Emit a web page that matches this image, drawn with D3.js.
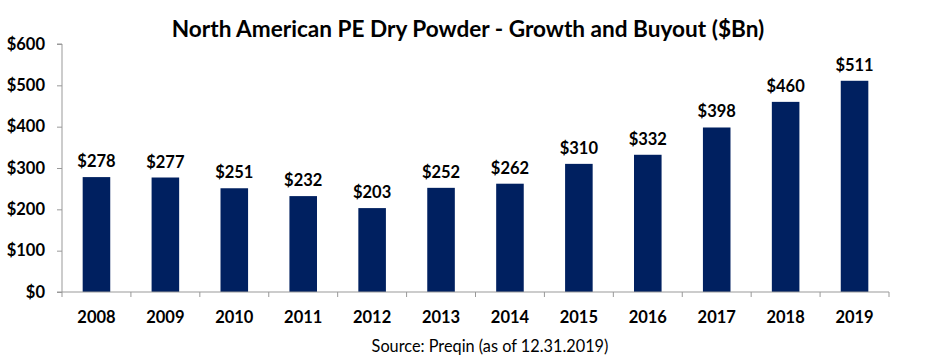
<!DOCTYPE html>
<html><head><meta charset="utf-8">
<script src="https://cdn.jsdelivr.net/npm/d3@7"></script>
<style>body{margin:0;background:#fff;} svg{display:block;}</style>
</head><body>
<svg id="c" width="936" height="364"></svg>
<script>
const years = ["2008","2009","2010","2011","2012","2013","2014","2015","2016","2017","2018","2019"];
const values = [278,277,251,232,203,252,262,310,332,398,460,511];
const yTicks = [0,100,200,300,400,500,600];
const title = "North American PE Dry Powder - Growth and Buyout ($Bn)";
const source = "Source: Preqin (as of 12.31.2019)";

const svg = d3.select("#c");
const font = "Lato, 'Open Sans', sans-serif";
const L = 62, R = 889, T = 44, B = 292;
const x = d3.scaleBand().domain(years).range([L, R]).paddingInner(0.6).paddingOuter(0.3);
const y = d3.scaleLinear().domain([0, 600]).range([B, T]);

svg.append("text").attr("x", 468).attr("y", 37).attr("text-anchor","middle")
  .attr("font-family", font).attr("font-weight","bold").attr("font-size", 22.6).attr("fill","#000").text(title);

svg.selectAll("rect.bar").data(values).join("rect").attr("class","bar")
  .attr("x", (d,i)=>x(years[i])).attr("width", x.bandwidth())
  .attr("y", d=>y(d)).attr("height", d=>B - y(d)).attr("fill","#002060");

svg.selectAll("text.lbl").data(values).join("text").attr("class","lbl")
  .attr("x",(d,i)=>x(years[i])+x.bandwidth()/2).attr("y", d=>y(d)-10)
  .attr("text-anchor","middle").attr("font-family",font).attr("font-weight","bold")
  .attr("font-size",16.5).attr("fill","#000").text(d=>"$"+d);

// y axis
const ya = svg.append("g").attr("transform",`translate(${L},0)`)
  .call(d3.axisLeft(y).tickValues(yTicks).tickSize(5).tickPadding(12).tickFormat(d=>"$"+d));
ya.select(".domain").attr("stroke","#999").attr("d",`M-5,${T}H0V${B}H-5`);
ya.selectAll(".tick line").attr("stroke","#999");
ya.selectAll("text").attr("font-family",font).attr("font-weight","bold").attr("font-size",16.5).attr("fill","#000");

// x axis
const xa = svg.append("g").attr("transform",`translate(0,${B})`);
xa.append("line").attr("x1",L).attr("x2",R).attr("y1",0).attr("y2",0).attr("stroke","#999");
const bounds = d3.range(years.length+1).map(i=>L + i*(R-L)/years.length);
xa.selectAll("line.t").data(bounds).join("line").attr("class","t")
  .attr("x1",d=>d).attr("x2",d=>d).attr("y1",0).attr("y2",5).attr("stroke","#999");
xa.selectAll("text").data(years).join("text")
  .attr("x",d=>x(d)+x.bandwidth()/2).attr("y",31).attr("text-anchor","middle")
  .attr("font-family",font).attr("font-weight","bold").attr("font-size",16.5).attr("fill","#000").text(d=>d);

svg.append("text").attr("x",490).attr("y",352).attr("text-anchor","middle")
  .attr("font-family",font).attr("font-size",16.3).attr("fill","#000").text(source);
</script>
</body></html>
